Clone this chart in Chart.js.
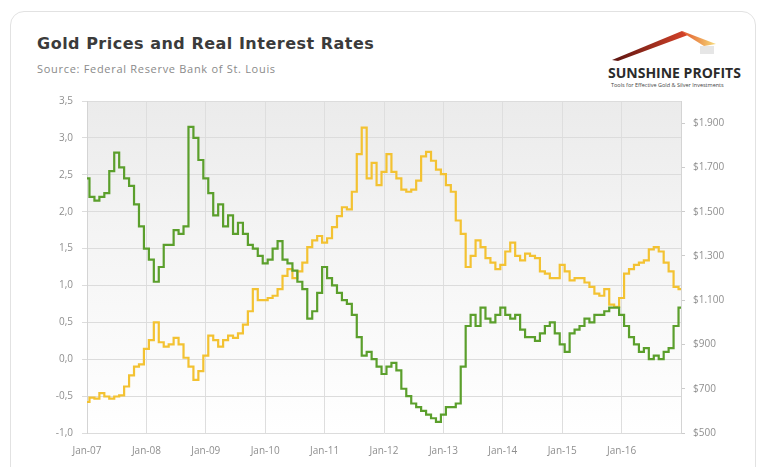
<!DOCTYPE html>
<html>
<head>
<meta charset="utf-8">
<script src="https://cdn.jsdelivr.net/npm/chart.js@4.4.0/dist/chart.umd.min.js"></script>
<style>
    html, body { margin: 0; padding: 0; background: #fff; width: 760px; height: 467px; overflow: hidden; }
    .card { position: absolute; left: 10px; top: 11px; width: 744px; height: 490px; border: 1px solid #e2e2e2; border-radius: 14px; }
    .title { position: absolute; left: 37px; top: 34px; font: bold 16px 'DejaVu Sans', sans-serif; color: #3b3b3b; letter-spacing: 0.5px; }
    .sub { position: absolute; left: 37px; top: 61px; font: 11px 'Open Sans', sans-serif; color: #8a8a8a; letter-spacing: 0.7px; }
    .brand { position: absolute; left: 608px; top: 63px; font: bold 14px 'Open Sans', sans-serif; color: #2b2b2b; letter-spacing: 0px; }
    .tag { position: absolute; left: 611px; top: 81px; font: 5.5px 'Open Sans', sans-serif; color: #444; white-space: nowrap; }
    #wrap { position: absolute; left: 0; top: 0; width: 760px; height: 467px; }
    svg { position: absolute; left: 0; top: 0; }
</style>
</head>
<body>
<div class="card"></div>
<div class="title">Gold Prices and Real Interest Rates</div>
<div class="sub">Source: Federal Reserve Bank of St. Louis</div>
<svg width="760" height="100">
    <defs>
        <linearGradient id="g1" x1="0" x2="1" y1="0" y2="0">
            <stop offset="0" stop-color="#5a1410"/>
            <stop offset="1" stop-color="#d8442a"/>
        </linearGradient>
        <linearGradient id="g2" x1="0" x2="1" y1="0" y2="0">
            <stop offset="0" stop-color="#e2572b"/>
            <stop offset="1" stop-color="#f7dc7a"/>
        </linearGradient>
    </defs>
    <polygon points="612,60 682,31 688,35 618,61" fill="url(#g1)"/>
    <polygon points="682,31 716,44 704,46 688,36" fill="url(#g2)"/>
    <rect x="700" y="46" width="14" height="8" fill="#e6e6e6"/>
</svg>
<div class="brand">SUNSHINE PROFITS</div>
<div class="tag">Tools for Effective Gold &amp; Silver Investments</div>
<div id="wrap"><canvas id="chart" width="760" height="467"></canvas></div>

<script>
// month categories Jan-07 .. Jan-17
const monthNames = ['Jan', 'Feb', 'Mar', 'Apr', 'May', 'Jun', 'Jul', 'Aug', 'Sep', 'Oct', 'Nov', 'Dec'];
const years = ['07', '08', '09', '10', '11', '12', '13', '14', '15', '16', '17'];

// 10-year real interest rate, % (left axis)
const realRate = [
    2.45, 2.2, 2.15, 2.2, 2.25, 2.55, 2.8, 2.6, 2.45, 2.35, 2.1, 1.8,
    1.5, 1.35, 1.05, 1.25, 1.55, 1.55, 1.75, 1.7, 1.8, 3.15, 3.0, 2.7,
    2.45, 2.25, 1.95, 2.1, 1.8, 1.95, 1.7, 1.85, 1.7, 1.55, 1.5, 1.4,
    1.3, 1.35, 1.5, 1.6, 1.35, 1.3, 1.2, 1.05, 0.95, 0.55, 0.65, 0.9,
    1.25, 1.1, 1.0, 0.9, 0.8, 0.75, 0.6, 0.3, 0.05, 0.1, 0.0, -0.1,
    -0.2, -0.1, -0.05, -0.15, -0.4, -0.5, -0.6, -0.65, -0.7, -0.75, -0.8, -0.85,
    -0.75, -0.65, -0.65, -0.6, -0.1, 0.45, 0.6, 0.45, 0.7, 0.55, 0.5, 0.6,
    0.7, 0.6, 0.55, 0.6, 0.4, 0.3, 0.3, 0.25, 0.35, 0.45, 0.5, 0.35,
    0.2, 0.1, 0.35, 0.4, 0.45, 0.55, 0.5, 0.6, 0.6, 0.65, 0.7, 0.7,
    0.6, 0.45, 0.3, 0.2, 0.1, 0.15, 0.0, 0.05, 0.0, 0.1, 0.15, 0.45,
    0.7
];

// gold price, USD/oz (right axis)
const goldPrice = [
    640, 660, 655, 680, 665, 655, 665, 670, 710, 760, 800, 810,
    880, 920, 1000, 910, 890, 900, 930, 900, 840, 800, 740, 780,
    850, 940, 920, 890, 920, 940, 930, 950, 990, 1050, 1150, 1100,
    1100, 1110, 1120, 1150, 1210, 1240, 1200, 1230, 1270, 1340, 1370, 1390,
    1360, 1380, 1430, 1480, 1520, 1510, 1590, 1760, 1880, 1650, 1720, 1620,
    1680, 1760, 1680, 1650, 1600, 1590, 1600, 1640, 1750, 1770, 1730, 1690,
    1670, 1620, 1590, 1460, 1400, 1250, 1300, 1370, 1340, 1290, 1270, 1240,
    1260, 1320, 1360, 1300, 1280, 1310, 1300, 1290, 1230, 1220, 1200, 1200,
    1260, 1230, 1190, 1200, 1200, 1180, 1160, 1130, 1120, 1150, 1080, 1070,
    1110, 1220, 1240, 1260, 1270, 1280, 1330, 1340, 1320, 1270, 1230, 1160,
    1150
];

const rateTicks = [-1, -0.5, 0, 0.5, 1, 1.5, 2, 2.5, 3, 3.5];
const rateTickLabels = ['-1,0', '-0,5', '0,0', '0,5', '1,0', '1,5', '2,0', '2,5', '3,0', '3,5'];
const goldTicks = [500, 700, 900, 1100, 1300, 1500, 1700, 1900];
const goldTickLabels = ['$500', '$700', '$900', '$1.100', '$1.300', '$1.500', '$1.700', '$1.900'];

const labels = [];
years.forEach(y => monthNames.forEach(m => labels.push(`${m}-${y}`)));
labels.length = realRate.length;

const tickFont = { family: "'Open Sans', sans-serif", size: 10 };
const tickColor = '#8f8f8f';

// soft grey-to-white fill behind the plot
const plotBackground = {
    id: 'plotBackground',
    beforeDraw(chart) {
        const { ctx, chartArea: a } = chart;
        const g = ctx.createLinearGradient(0, a.top, 0, a.bottom);
        g.addColorStop(0, '#ebebeb');
        g.addColorStop(0.4, '#f4f4f4');
        g.addColorStop(1, '#ffffff');
        ctx.save();
        ctx.fillStyle = g;
        ctx.fillRect(a.left, a.top, a.right - a.left, a.bottom - a.top);
        ctx.restore();
    }
};

new Chart(document.getElementById('chart'), {
    type: 'line',
    data: {
        labels: labels,
        datasets: [{
            label: 'Real interest rate',
            data: realRate,
            yAxisID: 'y',
            borderColor: '#5b9f2c',
            borderWidth: 2.2,
            pointRadius: 0,
            stepped: 'middle'
        }, {
            label: 'Gold price',
            data: goldPrice,
            yAxisID: 'y1',
            borderColor: '#f3c232',
            borderWidth: 2.2,
            pointRadius: 0,
            stepped: 'middle'
        }]
    },
    options: {
        responsive: false,
        animation: false,
        layout: { padding: { top: 101, left: 0, right: 0, bottom: 0 } },
        plugins: {
            legend: { display: false },
            tooltip: { enabled: false }
        },
        scales: {
            x: {
                grid: {
                    color: (c) => c.index % 12 === 0 ? '#dedede' : 'rgba(0,0,0,0)',
                    drawTicks: false
                },
                border: { display: false },
                ticks: {
                    autoSkip: false,
                    maxRotation: 0,
                    padding: 12,
                    font: tickFont,
                    color: tickColor,
                    callback: (v, i) => (i % 12 === 0 && i < labels.length - 1) ? labels[i] : ''
                },
                afterFit: (s) => { s.height = 34; }
            },
            y: {
                position: 'left',
                min: -1,
                max: 3.5,
                afterBuildTicks: (s) => { s.ticks = rateTicks.map(v => ({ value: v })); },
                ticks: {
                    padding: 9,
                    font: tickFont,
                    color: tickColor,
                    callback: (v, i) => rateTickLabels[i]
                },
                grid: { color: '#dcdcdc', tickLength: 5 },
                border: { color: '#d4d4d4' },
                afterFit: (s) => { s.width = 87; }
            },
            y1: {
                position: 'right',
                min: 500,
                max: 2000,
                afterBuildTicks: (s) => { s.ticks = goldTicks.map(v => ({ value: v })); },
                ticks: {
                    padding: 8,
                    font: tickFont,
                    color: tickColor,
                    callback: (v, i) => goldTickLabels[i]
                },
                grid: { drawOnChartArea: false, color: '#cccccc', tickLength: 4 },
                border: { color: '#d4d4d4' },
                afterFit: (s) => { s.width = 79; }
            }
        }
    },
    plugins: [plotBackground]
});
</script>
</body>
</html>
